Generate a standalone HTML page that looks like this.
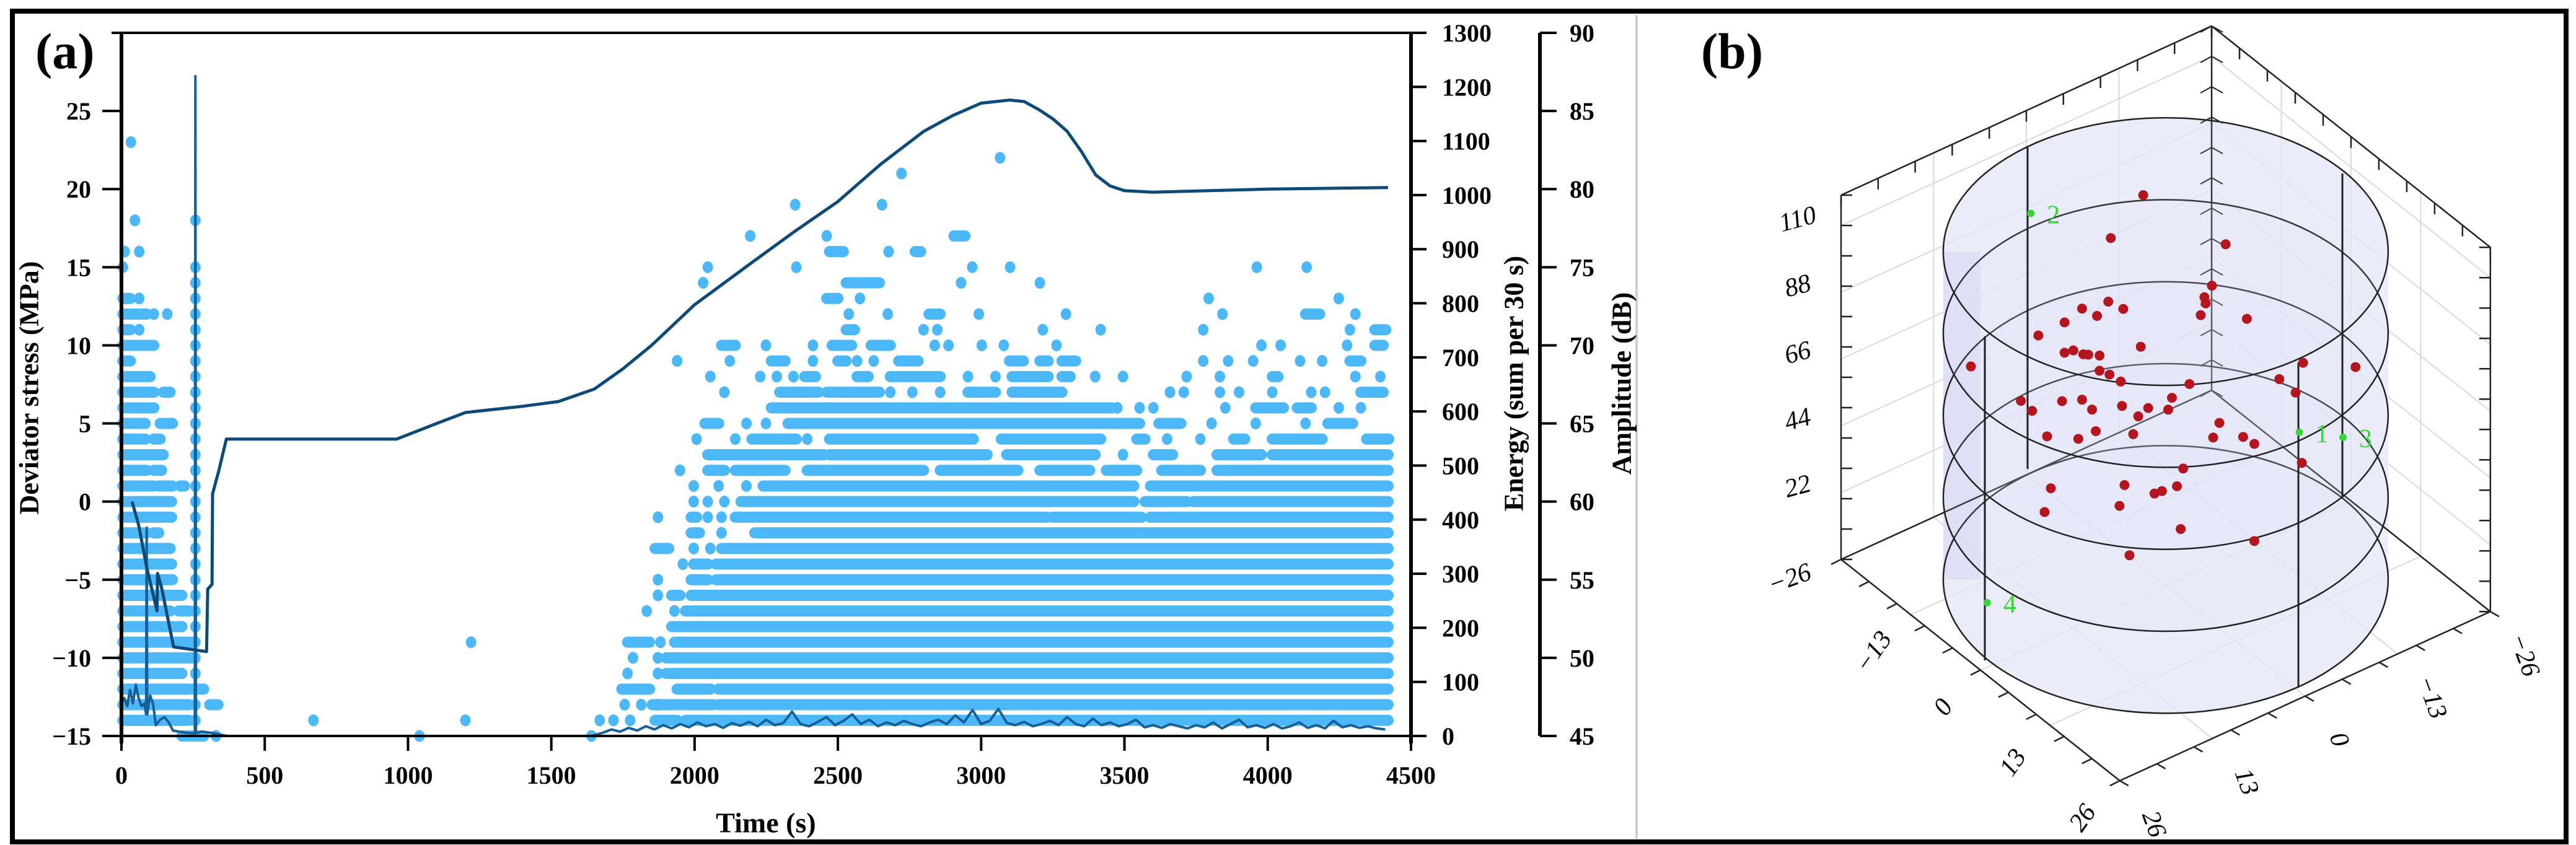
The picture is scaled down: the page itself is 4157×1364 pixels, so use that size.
<!DOCTYPE html>
<html><head><meta charset="utf-8">
<style>
html,body{margin:0;padding:0;background:#fff;}
svg{display:block;}
text{font-family:"Liberation Serif",serif;}
</style></head>
<body>
<svg id="fig" xmlns="http://www.w3.org/2000/svg" width="4157" height="1364" viewBox="0 0 4157 1364">
<rect x="20" y="18" width="4121" height="1341" fill="#fff" stroke="#000" stroke-width="8"/>
<line x1="2641" y1="24" x2="2641" y2="1354" stroke="#d0d0d0" stroke-width="4"/>
<g id="pa"></g>
<g id="pb"></g>
</svg>
<script>
// ===== Panel (a) data =====
const stressT=[37,60,88,124,126,140,182,297,301,316,318,340,366,960,1100,1200,1300,1400,1524,1650,1750,1850,2000,2200,2350,2500,2650,2800,2900,3000,3100,3150,3200,3250,3300,3350,3400,3450,3500,3600,4000,4420];
const stressV=[0,-1.5,-4.2,-7.0,-4.6,-5.5,-9.3,-9.6,-5.6,-5.3,0.5,2.0,4.0,4.0,5.0,5.7,5.9,6.1,6.4,7.2,8.5,10.0,12.6,15.3,17.3,19.2,21.6,23.7,24.7,25.5,25.7,25.6,25.1,24.5,23.7,22.4,20.9,20.2,19.9,19.8,20.0,20.1];
const energyEarlyT=[0,10,20,30,40,50,60,70,80,86,88,90,100,110,120,135,150,165,180,200,225,250,256,258,260,280,310,340,370,1640];
const energyEarlyV=[60,70,55,85,60,95,70,55,60,40,385,40,75,60,20,30,35,25,10,8,6,5,5,1220,5,8,6,3,0,0];
const energyBinStart=1680, energyBinStep=30;
const energyBins=[6,12,8,15,10,18,12,20,14,22,16,25,18,22,15,24,19,26,18,30,20,24,45,22,18,26,35,20,28,40,22,30,18,25,20,28,22,18,25,30,22,38,25,48,22,28,50,24,20,26,18,22,28,20,35,22,18,32,20,25,18,22,30,16,20,15,22,18,14,20,16,25,14,22,30,16,20,15,22,14,18,25,15,20,14,28,16,20,15,18,14,12];
const ampRows=[45,46,47,48,49,50,51,52,53,54,55,56,57,58,59,60,61,62,63,64,65,66,67,68,69,70,71,72,73,74,75,76,77,78,79,81,82,83];
const ampSegs=[
 [[211,287],[330,330],[1040,1040],[1640,1640]],
 [[5,236],[258,258],[670,670],[1200,1200],[1669,1669],[1717,1717],[1775,1775],[1862,1939],[1968,4420]],
 [[5,236],[258,258],[308,337],[1756,1756],[1814,1814],[1872,1872],[1852,2065],[2084,4420]],
 [[5,236],[250,287],[1746,1843],[1939,2055],[2084,4420]],
 [[5,211],[258,258],[1766,1766],[1872,1872],[1901,4420]],
 [[5,250],[258,258],[1785,1785],[1872,1872],[1901,4420]],
 [[5,250],[258,258],[1220,1220],[1766,1843],[1881,1881],[1930,4420]],
 [[5,211],[258,258],[1920,4420]],
 [[5,170],[200,236],[258,258],[1833,1833],[1930,1930],[1968,4420]],
 [[5,211],[258,258],[1872,1872],[1920,1949],[1988,4420]],
 [[5,178],[258,258],[1872,1872],[1988,2046],[2075,4420]],
 [[5,175],[258,258],[1959,1959],[1997,2046],[2075,4420]],
 [[5,170],[258,258],[1862,1910],[1997,1997],[2055,2055],[2094,4420]],
 [[5,88],[113,130],[258,258],[1988,2017],[2094,2094],[2210,4420]],
 [[5,175],[258,258],[1872,1872],[1988,2007],[2046,2046],[2094,2094],[2142,3230],[3250,3560],[3590,4420]],
 [[5,175],[258,258],[1997,1997],[2046,2046],[2104,2104],[2162,3533],[3572,3717],[3740,4420]],
 [[5,113],[130,178],[205,220],[258,258],[1997,1997],[2084,2084],[2181,2181],[2239,3533],[3591,4420]],
 [[5,88],[113,140],[258,258],[1949,1949],[2046,2104],[2142,2316],[2393,2799],[2857,3128],[3205,3379],[3437,3543],[3630,3765],[3823,4420]],
 [[5,146],[258,258],[2046,2451],[2471,3021],[3089,3398],[3495,3495],[3601,3668],[3823,3978],[4016,4420]],
 [[5,83],[113,135],[258,258],[2007,2007],[2142,2142],[2200,2355],[2393,2393],[2471,2973],[3070,3417],[3543,3572],[3649,3649],[3765,3765],[3881,3920],[4016,4190],[4345,4422]],
 [[5,83],[135,178],[258,258],[2036,2084],[2181,2181],[2249,2249],[2326,3553],[3620,3697],[3804,3804],[3958,3958],[4132,4132],[4210,4296]],
 [[5,113],[258,258],[2268,3456],[3475,3475],[3553,3553],[3601,3601],[3852,3852],[3958,4055],[4103,4152],[4248,4248],[4325,4325]],
 [[5,113],[146,170],[258,258],[2104,2104],[2297,2432],[2461,2645],[2683,2683],[2760,2760],[2857,2857],[2954,3050],[3108,3282],[3659,3659],[3707,3707],[3833,3833],[3900,3900],[4016,4016],[4152,4152],[4200,4200],[4325,4403]],
 [[5,100],[258,258],[2055,2055],[2229,2229],[2287,2287],[2345,2345],[2384,2422],[2567,2606],[2683,2857],[2954,2954],[3050,3050],[3108,3234],[3282,3311],[3398,3398],[3495,3495],[3717,3717],[3833,3833],[4016,4036],[4306,4306],[4393,4393]],
 [[5,31],[258,258],[1939,1939],[2123,2123],[2268,2316],[2413,2413],[2500,2529],[2567,2567],[2625,2625],[2712,2780],[3099,3147],[3205,3234],[3282,3330],[3775,3775],[3862,3862],[3949,3949],[4113,4113],[4190,4190],[4287,4325]],
 [[5,113],[258,258],[2094,2142],[2249,2249],[2413,2413],[2480,2548],[2616,2683],[2838,2838],[2886,2886],[3002,3002],[3079,3079],[3263,3263],[3978,3978],[4045,4045],[4277,4277],[4374,4403]],
 [[5,31],[62,62],[258,258],[2529,2558],[2799,2799],[2847,2847],[3215,3215],[3417,3417],[3775,3775],[4287,4287],[4374,4412]],
 [[5,88],[113,113],[160,160],[258,258],[2538,2538],[2674,2674],[2818,2857],[2992,2992],[3296,3296],[3842,3842],[4132,4181],[4306,4306]],
 [[5,31],[62,62],[258,258],[2461,2500],[2577,2577],[3794,3794],[4248,4248]],
 [[258,258],[2030,2030],[2529,2645],[2930,2930],[3205,3205]],
 [[5,5],[258,258],[2046,2046],[2355,2355],[2969,2969],[3101,3101],[3962,3962],[4136,4136]],
 [[11,11],[62,62],[2471,2519],[2677,2677],[2770,2789]],
 [[2194,2194],[2461,2461],[2905,2944]],
 [[47,47],[258,258]],
 [[2351,2351],[2654,2654]],
 [[2722,2722]],
 [[3066,3066]],
 [[33,33]]
];
const xTicks=[0,500,1000,1500,2000,2500,3000,3500,4000,4500];
const yTicks=[-15,-10,-5,0,5,10,15,20,25];
const eTicks=[0,100,200,300,400,500,600,700,800,900,1000,1100,1200,1300];
const aTicks=[45,50,55,60,65,70,75,80,85,90];

// ===== Panel (b) data =====
const ptU=[-1.8,-4.4,4.8,3.7,3.1,3.2,-4.6,-3.4,-6.7,-8.1,-5.5,2.8,6.5,-10.2,-2.0,-8.1,-7.4,-6.6,-6.2,-5.3,-15.6,15.2,11.0,-5.3,-4.5,-3.6,1.9,9.1,10.4,0.5,-11.6,-8.3,-6.7,-5.9,-10.7,-3.5,-1.4,0.2,-2.2,4.3,-9.5,-7.0,-5.6,-2.6,3.8,6.2,7.1,10.9,1.4,-9.2,-3.3,0.9,-0.9,-0.3,-9.7,-3.7,1.2,7.1,-2.9];
const ptV=ptU.map(u=>-u);
const ptZ=[128,113,114,100,96,94,92,90,89,84,87,90,90,79,78,74,75,74,74,74,67,77,77,69,68,66,67,71,67,62,57,58,59,56,54,58,58,58,55,55,46,46,49,49,50,51,49,44,39,29,32,33,30,31,21,25,19,17,9];
const sensorNames=["1","2","3","4"];
const sensorU=[10.7,-10.8,14.2,-14.3];
const sensorZ=[54,119,53.5,-10.4];
const ringZ=[2,29,56,83,110];
const zTicks=[22,44,66,88,110];
const floorTicks=[-26,-13,0,13,26];

const NS="http://www.w3.org/2000/svg";
function mk(parent,tag,attrs,txt){const e=document.createElementNS(NS,tag);for(const k in attrs)e.setAttribute(k,attrs[k]);if(txt!==undefined)e.textContent=txt;parent.appendChild(e);return e;}

// ===== Panel (a) =====
const pa=document.getElementById('pa');
const X0=196,X1=2277,YB=1188,YT=53;
const X=t=>X0+t*(X1-X0)/4500;
const Ys=s=>YB-(s+15)*(YB-YT)/45;
const Ye=e=>YB-e*(YB-YT)/1300;
const Ya=a=>YB-(a-45)*(YB-YT)/45;

// scatter (amplitude)
const sg=mk(pa,'g',{});


ampRows.forEach((a,i)=>{
  ampSegs[i].forEach(sv=>{
    let el;
    if(sv[0]===sv[1]){
      el=mk(sg,'ellipse',{cx:X(sv[0]),cy:Ya(a),rx:8.5,ry:9.5,fill:'#4db8f7'});
    }else{
      el=mk(sg,'line',{x1:X(sv[0]),y1:Ya(a),x2:X(sv[1]),y2:Ya(a),stroke:'#4db8f7','stroke-width':18,'stroke-linecap':'round'});
    }
    
    
  });
});
// energy line
let ep=[];
energyEarlyT.forEach((t,i)=>ep.push(X(t)+','+Ye(energyEarlyV[i])));
energyBins.forEach((v,i)=>ep.push(X(energyBinStart+i*energyBinStep)+','+Ye(v)));
const eline=mk(pa,'polyline',{points:ep.join(' '),fill:'none',stroke:'#14609a','stroke-width':4,'stroke-linejoin':'round'});


// stress line
const sp=stressT.map((t,i)=>X(t)+','+Ys(stressV[i])).join(' ');
const sline=mk(pa,'polyline',{points:sp,fill:'none',stroke:'#0d4a78','stroke-width':5,'stroke-linejoin':'round'});



// axes
const ax=mk(pa,'g',{stroke:'#000'});


mk(ax,'line',{x1:180,y1:YT,x2:X1,y2:YT,'stroke-width':4});
mk(ax,'line',{x1:X0,y1:YT,x2:X0,y2:1200,'stroke-width':6});
mk(ax,'line',{x1:165,y1:YB,x2:2302,y2:YB,'stroke-width':4});
mk(ax,'line',{x1:X1,y1:YT,x2:X1,y2:1200,'stroke-width':6});
mk(ax,'line',{x1:2485,y1:YT,x2:2485,y2:YB,'stroke-width':6});
const tf='"Liberation Serif",serif';
yTicks.forEach(v=>{
  mk(ax,'line',{x1:165,y1:Ys(v),x2:X0,y2:Ys(v),'stroke-width':4});
  const t=mk(pa,'text',{x:147,y:Ys(v)+14,'text-anchor':'end','font-size':40,'font-weight':'bold'},String(v).replace('-','\u2212'));
  
  
});
xTicks.forEach(v=>{
  mk(ax,'line',{x1:X(v),y1:YB,x2:X(v),y2:YB+24,'stroke-width':4});
  const t=mk(pa,'text',{x:X(v),y:1265,'text-anchor':'middle','font-size':40,'font-weight':'bold'},v);
  
  
});
eTicks.forEach(v=>{
  mk(ax,'line',{x1:X1,y1:Ye(v),x2:X1+25,y2:Ye(v),'stroke-width':4});
  const t=mk(pa,'text',{x:2327,y:Ye(v)+14,'font-size':40,'font-weight':'bold'},v);
  
  
});
aTicks.forEach(v=>{
  mk(ax,'line',{x1:2485,y1:Ya(v),x2:2512,y2:Ya(v),'stroke-width':4});
  const t=mk(pa,'text',{x:2533,y:Ya(v)+14,'font-size':40,'font-weight':'bold'},v);
  
  
});
function title(x,y,rot,txt,name,size){const t=mk(pa,'text',{x:x,y:y,'text-anchor':'middle','font-size':size,'font-weight':'bold','dominant-baseline':'central',transform:rot?`rotate(-90 ${x} ${y})`:''},txt);}
title(47,626,true,'Deviator stress (MPa)','y-axis-title',44);
title(2443,619,true,'Energy (sum per 30 s)','energy-axis-title',44);
title(2617,619,true,'Amplitude (dB)','amplitude-axis-title',44);
title(1236,1328,false,'Time (s)','x-axis-title',46);
const la=mk(pa,'text',{x:57,y:110,'font-size':82,'font-weight':'bold'},'(a)');



// ===== Panel (b) =====
const pb=document.getElementById('pb');
const BX=3569,BY=630,ZS=4.9;
function P(u,v,z){return [BX+(u+26)*8.65+(v+26)*(-11.5), BY+(u+26)*6.87+(v+26)*5.25-z*ZS];}
function L(g,a,b,st,w){return mk(g,'line',{x1:a[0],y1:a[1],x2:b[0],y2:b[1],stroke:st,'stroke-width':w});}
// grid
const gg=mk(pb,'g',{});


[-13,0,13].forEach(k=>{
  L(gg,P(-26,k,0),P(-26,k,120),'#dadada',2);
  L(gg,P(k,-26,0),P(k,-26,120),'#dadada',2);
  L(gg,P(k,-26,0),P(k,26,0),'#dadada',2);
  L(gg,P(-26,k,0),P(26,k,0),'#dadada',2);
});
zTicks.forEach(z=>{L(gg,P(-26,26,z),P(-26,-26,z),'#dadada',2);L(gg,P(-26,-26,z),P(26,-26,z),'#dadada',2);});
// cylinder body
const cx0=P(0,0,0)[0],rx=359,ry=216;
const yTop=P(0,0,ringZ[ringZ.length-1])[1],yBot=P(0,0,ringZ[0])[1];
const body=mk(pb,'path',{d:`M${cx0-rx},${yTop} A${rx},${ry} 0 0 1 ${cx0+rx},${yTop} L${cx0+rx},${yBot} A${rx},${ry} 0 0 1 ${cx0-rx},${yBot} Z`,fill:'#e6e8f8','fill-opacity':0.75});


mk(pb,'rect',{x:cx0-rx,y:yTop,width:60,height:yBot-yTop,fill:'#d5d9f2','fill-opacity':0.6});
// box
const bg=mk(pb,'g',{});


const A=P(-26,-26,120),B=P(-26,-26,0),LT=P(-26,26,120),LB=P(-26,26,0),RT=P(26,-26,120),RB=P(26,-26,0),F=P(26,26,0);
[[A,LT],[A,RT],[LT,LB],[RT,RB],[A,B],[LB,F],[RB,F],[B,LB],[B,RB]].forEach(e=>L(bg,e[0],e[1],'#222',2.5));
// ticks
for(let k=0;k<=10;k++){const s=-26+k*5.2;
  let p=P(-26,s,120);L(bg,p,[p[0],p[1]+18],'#222',2.5);
  p=P(s,-26,120);L(bg,p,[p[0],p[1]+18],'#222',2.5);
  p=P(s,26,0);L(bg,p,[p[0]-16,p[1]+8],'#222',2.5);
  p=P(26,s,0);L(bg,p,[p[0]+14,p[1]+8],'#222',2.5);
}
for(let k=0;k<=12;k++){const z=k*10;
  let p=P(-26,26,z);L(bg,p,[p[0]+18,p[1]],'#222',2.5);
  p=P(26,-26,z);L(bg,p,[p[0]-18,p[1]],'#222',2.5);
  p=P(-26,-26,z);L(bg,p,[p[0]-18,p[1]+10],'#222',2);L(bg,p,[p[0]+18,p[1]+10],'#222',2);
}
// rings
ringZ.forEach(z=>{const c=P(0,0,z);const r=mk(pb,'ellipse',{cx:c[0],cy:c[1],rx:rx,ry:ry,fill:'#dfe2f6','fill-opacity':0.12,stroke:'#222','stroke-width':2.5});
  
  });
// sensor lines
const vl=mk(pb,'g',{stroke:'#222','stroke-width':3});


[[3272,238,757],[3203,543,1066],[3709,585,1110],[3780,280,803]].forEach(l=>mk(vl,'line',{x1:l[0],y1:l[1],x2:l[0],y2:l[2]}));
// events
ptU.forEach((u,i)=>{const p=P(u,ptV[i],ptZ[i]);const c=mk(pb,'circle',{cx:p[0],cy:p[1],r:8,fill:'#b3161e'});
  
  });
sensorU.forEach((u,i)=>{const p=P(u,-u,sensorZ[i]);const c=mk(pb,'circle',{cx:p[0],cy:p[1],r:6,fill:'#3ad43a'});
  
  
  const t=mk(pb,'text',{x:p[0]+26,y:p[1]+16,'font-size':42,fill:'#3ad43a'},sensorNames[i]);
  
  });
// labels
function bl(x,y,rot,txt,name){const t=mk(pb,'text',{x:x,y:y,'text-anchor':'middle','dominant-baseline':'central','font-size':42,'font-style':'italic',transform:`rotate(${rot} ${x} ${y})`},txt);}
zTicks.forEach(z=>{const p=P(-26,26,z);bl(p[0]-70,p[1]-10,-15,String(z),'z-tick-label');});
bl(2888,934,-20,'\u221226','z-tick-label');
floorTicks.slice(1).forEach((v,i)=>{const p=P(v,26,0);bl(p[0]-60,p[1]+60,-55,String(v).replace('-','\u2212'),'floor-u-tick-label');});
floorTicks.forEach(v=>{const p=P(26,-v,0);bl(p[0]+55,p[1]+70,70,String(-v).replace('-','\u2212'),'floor-v-tick-label');});
const lb=mk(pb,'text',{x:2745,y:110,'font-size':82,'font-weight':'bold'},'(b)');


</script>
</body></html>
